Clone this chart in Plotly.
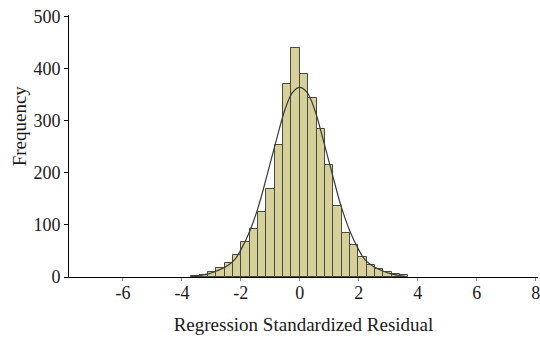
import plotly.graph_objects as go

# ---- data ----
bin_centers = [-3.538, -3.255, -2.972, -2.689, -2.406, -2.123, -1.840, -1.557,
               -1.274, -0.991, -0.708, -0.425, -0.142, 0.142, 0.425, 0.708,
               0.991, 1.274, 1.557, 1.840, 2.123, 2.406, 2.689, 2.972, 3.255, 3.538]
counts = [2, 4, 10, 17, 26, 42, 67, 92, 124, 169, 254, 370, 439,
          389, 344, 285, 215, 137, 85, 62, 38, 24, 15, 10, 6, 3]

curve_x = [-3.7, -3.1, -2.8, -2.5, -2.2, -2.0, -1.7, -1.4, -1.1, -0.8, -0.5, -0.25, 0.0,
           0.25, 0.5, 0.8, 1.1, 1.4, 1.7, 2.0, 2.2, 2.5, 2.8, 3.1, 3.6]
curve_y = [1, 6, 12, 20, 34, 52, 88, 136, 198, 262, 322, 354, 364,
           354, 322, 262, 198, 136, 88, 52, 34, 20, 12, 6, 1]

x_ticks = [-6, -4, -2, 0, 2, 4, 6, 8]
y_ticks = [0, 100, 200, 300, 400, 500]

BIN_WIDTH = 0.283
FONT = "Liberation Serif"
TXT = "#1a1a1a"

fig = go.Figure()
fig.add_trace(go.Bar(
    x=bin_centers, y=counts, width=[BIN_WIDTH] * len(counts),
    marker=dict(color="#d6d09a", line=dict(color="#4a4a3a", width=1)),
    showlegend=False, hoverinfo="skip"))
fig.add_trace(go.Scatter(
    x=curve_x, y=curve_y, mode="lines",
    line=dict(color="#3a3a3a", width=1.2, shape="spline", smoothing=1.0),
    showlegend=False, hoverinfo="skip"))

fig.update_layout(
    width=540, height=342,
    margin=dict(l=69, r=0, t=15, b=65),
    paper_bgcolor="white", plot_bgcolor="white",
    bargap=0,
    font=dict(family=FONT, size=18, color=TXT),
    xaxis=dict(range=[-7.83, 8.08], tickvals=x_ticks, ticktext=[str(v) for v in x_ticks],
               showgrid=False, zeroline=False, showline=True, linecolor="black", linewidth=1,
               ticks="outside", ticklen=3, tickcolor="#888", ticklabeloverflow="allow",
               ticklabelstandoff=-4,
               tickfont=dict(family=FONT, size=18, color=TXT),
               title=dict(text="Regression Standardized Residual", font=dict(family=FONT, size=19, color=TXT),
                          standoff=16)),
    yaxis=dict(range=[0, 503], tickvals=y_ticks, showgrid=False, zeroline=False,
               showline=True, linecolor="black", linewidth=1,
               ticks="outside", ticklen=4, tickcolor="black",
               tickfont=dict(family=FONT, size=18, color=TXT)),
    annotations=[dict(text="Frequency", xref="paper", yref="paper", x=-0.106, y=0.576,
                      textangle=-90, showarrow=False, xanchor="center", yanchor="middle",
                      font=dict(family=FONT, size=19, color=TXT))],
)

fig.write_html("out.html")
